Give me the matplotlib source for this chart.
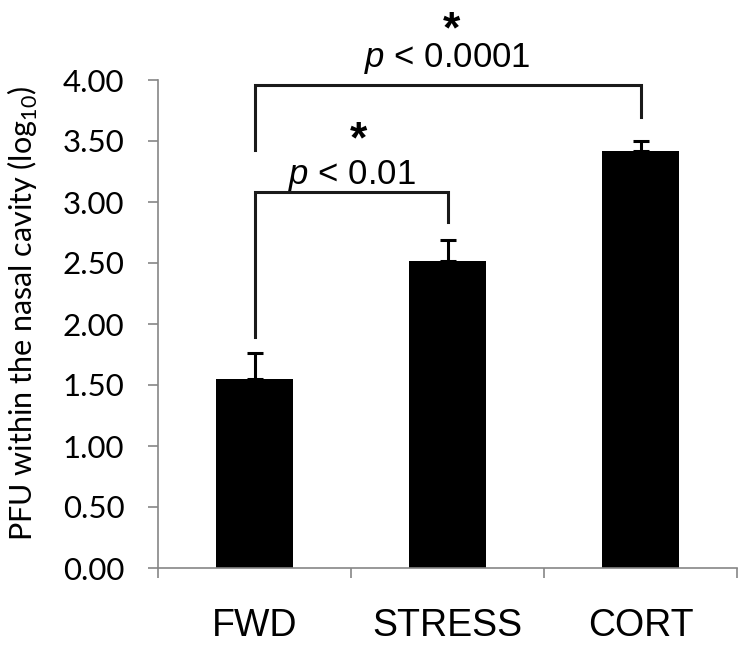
import matplotlib
matplotlib.use("Agg")
import matplotlib.pyplot as plt

groups = ["FWD", "STRESS", "CORT"]
means = [1.55, 2.52, 3.42]
errors = [0.21, 0.17, 0.08]
yticks = [0.0, 0.5, 1.0, 1.5, 2.0, 2.5, 3.0, 3.5, 4.0]

# bracket: x_left, x_right, top, left end, right end
brackets = [(0, 1, 3.08, 1.89, 2.84), (0, 2, 3.96, 3.43, 3.70)]
p_labels = [r"$\it{p}$ < 0.01", r"$\it{p}$ < 0.0001"]

plt.rcParams["mathtext.fontset"] = "custom"
plt.rcParams["mathtext.rm"] = "Liberation Sans"
plt.rcParams["mathtext.it"] = "Liberation Sans:italic"
plt.rcParams["mathtext.bf"] = "Liberation Sans:bold"

fig = plt.figure(figsize=(7.5, 6.58), dpi=100)
ax = fig.add_axes([158 / 750, 90 / 658, 579 / 750, 488 / 658])

x = list(range(len(groups)))
ax.bar(x, means, width=0.40, color="black", zorder=2)
ax.errorbar(x, means, yerr=[[0] * len(errors), errors], fmt="none",
            ecolor="black", elinewidth=2.2, capsize=6, capthick=2.2, zorder=3)

ax.set_xlim(-0.5, 2.5)
ax.set_ylim(0, 4)
ax.set_yticks(yticks)
ax.set_yticklabels(["%.2f" % t for t in yticks], fontsize=22.5, family="Lato")
ax.set_xticks([-0.5, 0.5, 1.5, 2.5])
ax.set_xticklabels([])
ax.set_xticks(x, minor=True)
ax.set_xticklabels(groups, minor=True, fontsize=27, family="Liberation Sans")

grey = "#868686"
for s in ["top", "right"]:
    ax.spines[s].set_visible(False)
for s in ["left", "bottom"]:
    ax.spines[s].set_color(grey)
    ax.spines[s].set_linewidth(1.2)
ax.tick_params(axis="both", which="major", color=grey, width=1.2, length=7.2)
ax.tick_params(axis="y", pad=17)
ax.tick_params(axis="x", which="minor", length=0, pad=29)

# significance brackets
for (xl, xr, top, yl, yr) in brackets:
    ax.plot([xl, xl, xr, xr], [yl, top, top, yr], color="#1a1a1a", lw=2.2,
            clip_on=False, solid_joinstyle="miter")

ax.text(0.505, 3.15, p_labels[0], ha="center", va="baseline", fontsize=25,
        family="Liberation Sans")
ax.text(0.997, 4.11, p_labels[1], ha="center", va="baseline", fontsize=25,
        family="Liberation Sans", clip_on=False)
ax.text(0.54, 3.51, r"$\mathbf{*}$", ha="center", va="center", fontsize=32,
        family="Liberation Sans")
ax.text(1.02, 4.41, r"$\mathbf{*}$", ha="center", va="center", fontsize=32,
        family="Liberation Sans", clip_on=False)

fig.text(23 / 750, 1 - 314 / 658,
         r"PFU within the nasal cavity (log$_{\mathregular{10}}$)",
         rotation=90, ha="center", va="center", fontsize=22, family="Lato")

fig.savefig("out.png", dpi=100)
